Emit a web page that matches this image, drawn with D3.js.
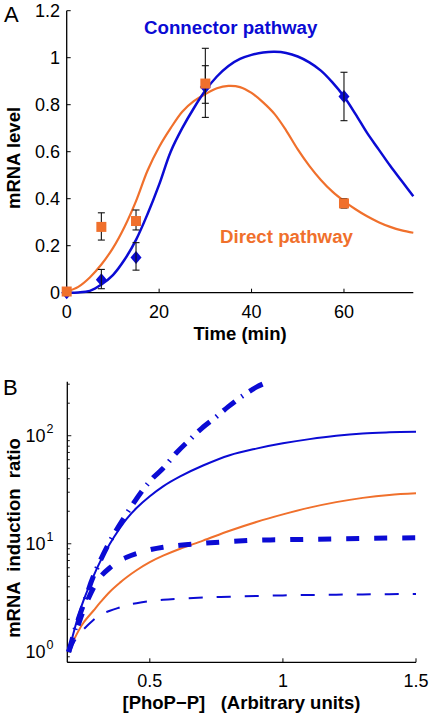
<!DOCTYPE html>
<html><head><meta charset="utf-8">
<script src="https://cdn.jsdelivr.net/npm/d3@7"></script>
<style>body{margin:0;background:#fff}svg{display:block}text{font-family:"Liberation Sans",Arial,sans-serif}</style>
</head><body>
<script>
// ---------- Panel A data ----------
const tCurve = [0,2.5,5,7.5,10,12.5,15,17.5,20,22.5,25,27.5,30,32.5,35,37.5,40,42.5,45,47.5,50,52.5,55,57.5,60,62.5,65,67.5,70,72.5,75];
const connectorCurve = [0,0.001,0.008,0.035,0.075,0.14,0.225,0.335,0.46,0.6,0.7,0.785,0.86,0.92,0.965,0.995,1.012,1.022,1.025,1.02,1.005,0.98,0.945,0.895,0.835,0.76,0.68,0.61,0.54,0.475,0.41];
const directCurve = [0.005,0.025,0.065,0.12,0.19,0.28,0.39,0.52,0.62,0.7,0.77,0.815,0.845,0.87,0.88,0.875,0.85,0.81,0.76,0.69,0.61,0.54,0.48,0.43,0.39,0.355,0.325,0.3,0.28,0.265,0.255];
const tData = [0,7.5,15,30,60];
const connectorMean = [0,0.055,0.15,0.875,0.835];
const connectorLo = [0,0.017,0.096,0.806,0.732];
const connectorHi = [0,0.099,0.213,0.966,0.938];
const directMean = [0.005,0.28,0.305,0.89,0.38];
const directLo = [0.005,0.224,0.267,0.746,0.36];
const directHi = [0.005,0.34,0.352,1.04,0.40];
const xTicksA = [0,20,40,60];
const yTicksA = [0,0.2,0.4,0.6,0.8,1,1.2];
const yTickLabelsA = ["0","0.2","0.4","0.6","0.8","1","1.2"];

// ---------- Panel B data ----------
const xB = [0.195,0.225,0.25,0.288,0.313,0.35,0.388,0.413,0.45,0.5,0.55,0.614,0.7,0.8,0.9,1.0,1.1,1.2,1.3,1.4,1.5];
const blueSolidB = [1.0,1.9,2.95,5.0,6.8,10,14,17,21.4,27.5,34,42,53,66,76,85,93,100,105,107.5,109];
const orangeB = [1.0,1.45,1.85,2.4,2.85,3.6,4.37,4.9,5.69,6.76,7.76,9.0,10.7,13.2,15.9,18.7,21.6,24.3,26.6,28.3,29.3];
const thickDashB = [1.0,1.6,2.4,3.9,4.9,6.0,7.0,7.5,8.1,8.8,9.3,9.7,10.1,10.5,10.8,10.9,11.0,11.1,11.2,11.3,11.35];
const thinDashB = [1.0,1.35,1.6,1.97,2.2,2.4,2.58,2.7,2.82,2.95,3.03,3.1,3.18,3.24,3.29,3.33,3.36,3.38,3.4,3.42,3.43];
const xDashDot = [0.195,0.225,0.25,0.288,0.35,0.413,0.476,0.513,0.55,0.601,0.65,0.695,0.75,0.795,0.85,0.902,0.937];
const dashDotB = [1.0,1.8,2.7,5.0,10.5,19,32,41,50,70,92,117,150,186,235,283,310];
const xTicksB = [0.5,1,1.5];
const xTickLabelsB = ["0.5","1","1.5"];
const yMajorB = [1,10,100];
const yExpB = ["0","1","2"];

const BLUE = "#0b0bd4", ORANGE = "#f0702c";

const svg = d3.select("body").append("svg").attr("width",430).attr("height",716);

// ================= Panel A =================
const xA = d3.scaleLinear().domain([0,75]).range([66.7,413.3]);
const yA = d3.scaleLinear().domain([0,1.2]).range([292.7,10.7]);
const gA = svg.append("g");
gA.append("line").attr("x1",xA(0)).attr("x2",xA(75)).attr("y1",yA(0)).attr("y2",yA(0)).attr("stroke","#000").attr("stroke-width",1.3);
gA.append("line").attr("x1",xA(0)).attr("x2",xA(0)).attr("y1",yA(0)).attr("y2",yA(1.2)).attr("stroke","#000").attr("stroke-width",1.3);
xTicksA.forEach(t=>{
  gA.append("line").attr("x1",xA(t)).attr("x2",xA(t)).attr("y1",yA(0)).attr("y2",yA(0)-4).attr("stroke","#000");
  gA.append("text").attr("x",xA(t)).attr("y",318).attr("text-anchor","middle").attr("font-size",18).text(t);
});
yTicksA.forEach((v,i)=>{
  gA.append("line").attr("x1",xA(0)).attr("x2",xA(0)+4).attr("y1",yA(v)).attr("y2",yA(v)).attr("stroke","#000");
  gA.append("text").attr("x",60).attr("y",yA(v)+6.5).attr("text-anchor","end").attr("font-size",18).text(yTickLabelsA[i]);
});
gA.append("text").attr("transform","translate(20,158) rotate(-90)").attr("text-anchor","middle").attr("font-size",18.5).attr("font-weight","bold").text("mRNA level");
gA.append("text").attr("x",240).attr("y",340).attr("text-anchor","middle").attr("font-size",18.5).attr("font-weight","bold").text("Time (min)");
gA.append("text").attr("x",4).attr("y",22).attr("font-size",22).text("A");
gA.append("text").attr("x",144).attr("y",34).attr("font-size",18.7).attr("font-weight","bold").attr("fill",BLUE).text("Connector pathway");
gA.append("text").attr("x",220).attr("y",243).attr("font-size",18.7).attr("font-weight","bold").attr("fill",ORANGE).text("Direct pathway");

const lineA = d3.line().x(d=>xA(d[0])).y(d=>yA(d[1])).curve(d3.curveCatmullRom);
gA.append("path").attr("d",lineA(tCurve.map((t,i)=>[t,directCurve[i]]))).attr("fill","none").attr("stroke",ORANGE).attr("stroke-width",2.2);
gA.append("path").attr("d",lineA(tCurve.map((t,i)=>[t,connectorCurve[i]]))).attr("fill","none").attr("stroke",BLUE).attr("stroke-width",2.5);

function errbar(g,t,lo,hi){
  if(hi-lo<0.001) return;
  g.append("line").attr("x1",xA(t)).attr("x2",xA(t)).attr("y1",yA(lo)).attr("y2",yA(hi)).attr("stroke","#111").attr("stroke-width",1.1);
  [lo,hi].forEach(v=>g.append("line").attr("x1",xA(t)-3.5).attr("x2",xA(t)+3.5).attr("y1",yA(v)).attr("y2",yA(v)).attr("stroke","#111").attr("stroke-width",1.1));
}
tData.forEach((t,i)=>{
  const cx=xA(t), cy=yA(connectorMean[i]);
  gA.append("path").attr("d",`M${cx},${cy-6.5}L${cx+5.5},${cy}L${cx},${cy+6.5}L${cx-5.5},${cy}Z`).attr("fill",BLUE);
  errbar(gA,t,connectorLo[i],connectorHi[i]);
});
tData.forEach((t,i)=>{
  errbar(gA,t,directLo[i],directHi[i]);
  gA.append("rect").attr("x",xA(t)-5).attr("y",yA(directMean[i])-5).attr("width",10).attr("height",10).attr("fill",ORANGE);
});

// ================= Panel B =================
const xBs = d3.scaleLinear().domain([0.19,1.5]).range([67.3,416]);
const yBs = d3.scaleLog().domain([0.8,Math.pow(10,2.5)]).range([662.3,381.7]);
const gB = svg.append("g");
gB.append("line").attr("x1",xBs(0.19)).attr("x2",xBs(1.5)).attr("y1",662.3).attr("y2",662.3).attr("stroke","#000").attr("stroke-width",1.3);
gB.append("line").attr("x1",67.3).attr("x2",67.3).attr("y1",662.3).attr("y2",381.7).attr("stroke","#000").attr("stroke-width",1.3);
xTicksB.forEach((v,i)=>{
  gB.append("line").attr("x1",xBs(v)).attr("x2",xBs(v)).attr("y1",662.3).attr("y2",658.3).attr("stroke","#000");
  gB.append("text").attr("x",xBs(v)).attr("y",687).attr("text-anchor","middle").attr("font-size",18).text(xTickLabelsB[i]);
});
const minor = [];
[0.1,1,10,100].forEach(dec=>{for(let k=1;k<10;k++){const v=dec*k; if(v>=0.8 && v<=316) minor.push(v);}});
minor.forEach(v=>{
  const major = yMajorB.includes(v);
  gB.append("line").attr("x1",67.3).attr("x2",67.3+(major?4:2.5)).attr("y1",yBs(v)).attr("y2",yBs(v)).attr("stroke","#000").attr("stroke-width",0.9);
});
yMajorB.forEach((v,i)=>{
  gB.append("text").attr("x",45.5).attr("y",yBs(v)+6.5).attr("text-anchor","end").attr("font-size",18).text("10");
  gB.append("text").attr("x",46.5).attr("y",yBs(v)-2.5).attr("text-anchor","start").attr("font-size",12.5).text(yExpB[i]);
});
gB.append("text").attr("transform","translate(20,538) rotate(-90)").attr("text-anchor","middle").attr("font-size",18.5).attr("font-weight","bold").style("white-space","pre").text("mRNA  induction  ratio");
gB.append("text").attr("x",241.5).attr("y",709).attr("text-anchor","middle").attr("font-size",18.5).attr("font-weight","bold").style("white-space","pre").text("[PhoP\u2212P]   (Arbitrary units)");
gB.append("text").attr("x",3).attr("y",395).attr("font-size",22).text("B");

const lineB = d3.line().x(d=>xBs(d[0])).y(d=>yBs(d[1])).curve(d3.curveCatmullRom);
const ser = (xs,ys)=>xs.map((x,i)=>[x,ys[i]]);
gB.append("path").attr("d",lineB(ser(xB,thinDashB))).attr("fill","none").attr("stroke",BLUE).attr("stroke-width",2).attr("stroke-dasharray","14,14");
gB.append("path").attr("d",lineB(ser(xB,orangeB))).attr("fill","none").attr("stroke",ORANGE).attr("stroke-width",2);
gB.append("path").attr("d",lineB(ser(xB,thickDashB))).attr("fill","none").attr("stroke",BLUE).attr("stroke-width",5).attr("stroke-dasharray","13,15");
gB.append("path").attr("d",lineB(ser(xB,blueSolidB))).attr("fill","none").attr("stroke",BLUE).attr("stroke-width",2);
gB.append("path").attr("d",lineB(ser(xDashDot,dashDotB))).attr("fill","none").attr("stroke",BLUE).attr("stroke-width",5).attr("stroke-dasharray","15,8,1.5,8");
</script>
</body></html>
